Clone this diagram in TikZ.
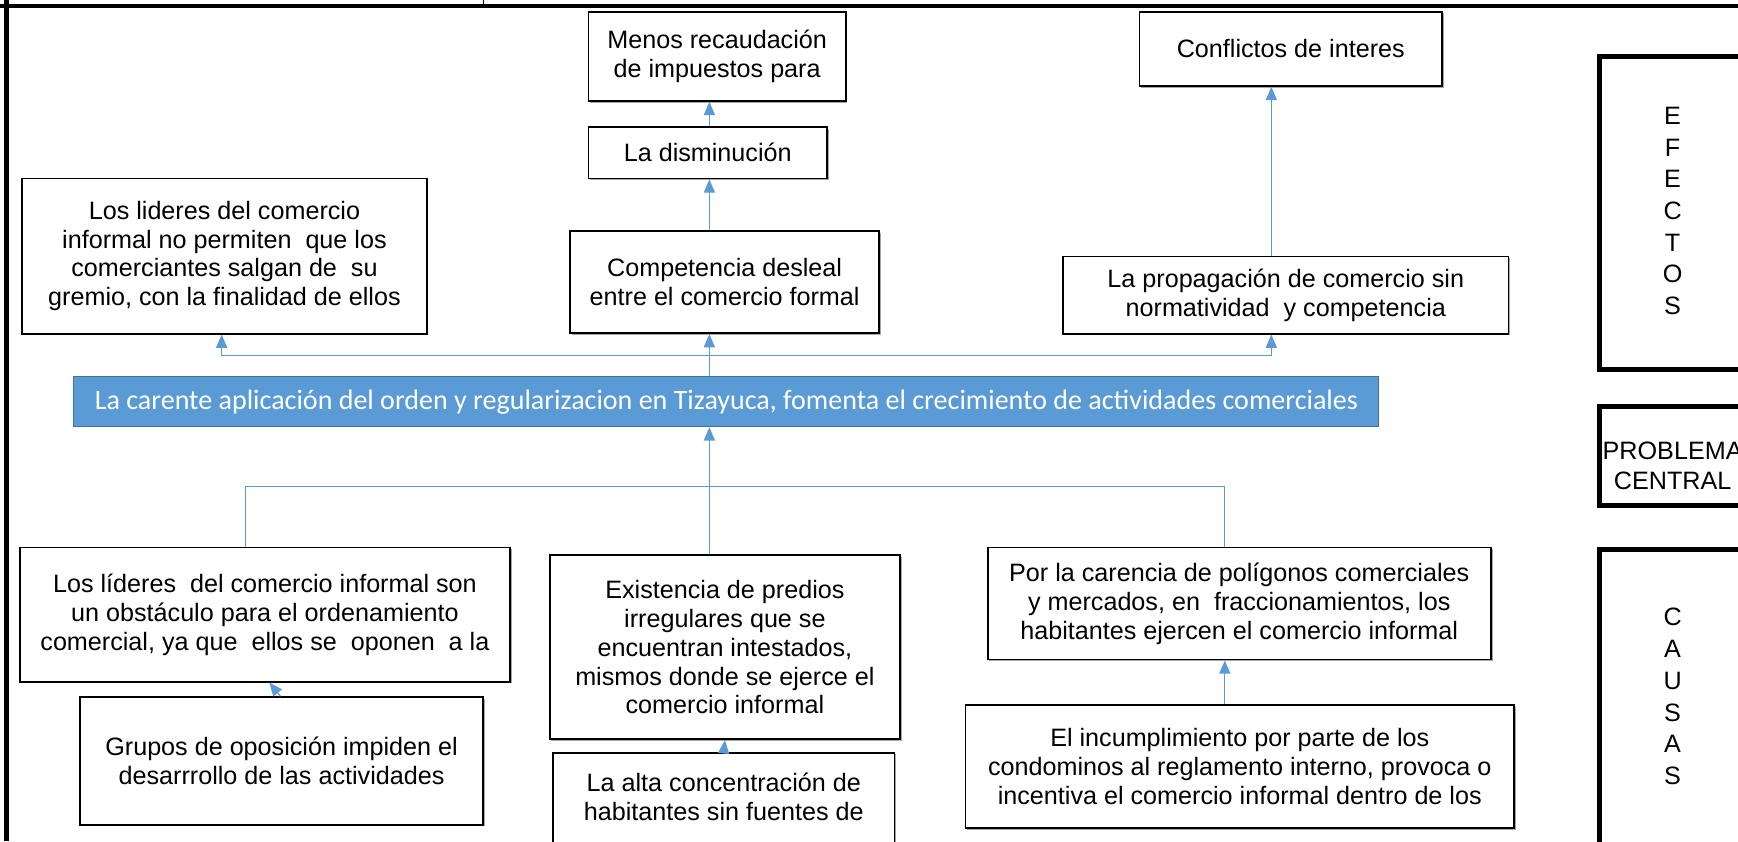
\documentclass[tikz,border=0pt]{standalone}
\usepackage{fontspec}
\setmainfont{Liberation Sans}
\newfontfamily\calibfont{Carlito}
\usetikzlibrary{arrows.meta,calc,shadows}
\definecolor{cblue}{HTML}{5B9BD5}
\definecolor{cbluedark}{HTML}{41719C}
\tikzset{
  box/.style={draw=black, line width=1.6pt, fill=white, inner sep=0pt, align=center,
    font=\fontsize{22.7}{26}\selectfont,
    drop shadow={shadow xshift=1.5pt, shadow yshift=-1.5pt, fill=black!35, opacity=1}},
  txt/.style={inner sep=0pt, align=center, font=\fontsize{22.7}{26}\selectfont},
  arr/.style={draw=cblue, line width=1.1pt, -{Triangle[width=10pt,length=12pt]}},
  conn/.style={draw=cblue, line width=1.1pt},
  panel/.style={draw=black, line width=4.5pt, minimum width=132pt, inner sep=0pt},
  sidetxt/.style={inner sep=0pt, align=center, font=\fontsize{22.7}{28.5}\selectfont},
  frame/.style={draw=black, line width=4pt}
}
\begin{document}
\begin{tikzpicture}[x=1pt,y=-1pt]
\useasboundingbox (0,0) rectangle (1568,759);
\clip (0,0) rectangle (1568,759);

% outer frame
\draw[line width=3.6pt] (0,5.4) -- (1568,5.4);
\draw[frame] (6,0) -- (6,759);
\draw[line width=1.2pt] (436,0) -- (436,5.4);

% helper x positions
\coordinate (cx) at (640,0);
\coordinate (lx) at (200,0);
\coordinate (rx) at (1147,0);
\coordinate (blx) at (221.5,0);
\coordinate (brx) at (1105,0);
\coordinate (gsx) at (253,0);
\coordinate (gtx) at (243,0);
\coordinate (hu) at (640,321);
\coordinate (hb) at (640,439);

% effects
\node[box, minimum width=232pt, minimum height=80.5pt] (menos) at (647,50.75)
  {Menos recaudación\\de impuestos para};
\node[box, minimum width=215pt, minimum height=46.5pt] (dism) at (638.5,137.75)
  {La disminución};
\node[box, minimum width=278.5pt, minimum height=92pt] (comp) at (653.75,254.5)
  {Competencia desleal\\entre el comercio formal};
\node[box, minimum width=365pt, minimum height=140pt] (lid1) at (202.5,231)
  {Los lideres del comercio\\informal no permiten\ \ que los\\comerciantes salgan de\ \ su\\gremio, con la finalidad de ellos};
\node[box, minimum width=273pt, minimum height=67pt] (conf) at (1164.5,44)
  {Conflictos de interes};
\node[box, minimum width=402pt, minimum height=69.5pt] (prop) at (1160,266.25)
  {La propagación de comercio sin\\normatividad\ \ y competencia};

% central problem
\node[draw=cbluedark, line width=1pt, fill=cblue, minimum width=1177.4pt, minimum height=45pt,
  inner sep=0pt, text=white, font=\calibfont\fontsize{25.3}{30}\selectfont] (bar) at (655.3,362.5)
  {La carente aplicación del orden y regularizacion en Tizayuca, fomenta el crecimiento de actividades comerciales};

% causes
\node[box, minimum width=442pt, minimum height=121pt] (lid2) at (239,554.5)
  {Los líderes\ \ del comercio informal son\\un obstáculo para el ordenamiento\\comercial, ya que\ \ ellos se\ \ oponen\ \ a la};
\node[box, minimum width=364pt, minimum height=115pt] (grupos) at (254,686.5)
  {Grupos de oposición impiden el\\desarrrollo de las actividades};
\node[box, minimum width=316pt, minimum height=166pt] (exist) at (654,584)
  {Existencia de predios\\irregulares que se\\encuentran intestados,\\mismos donde se ejerce el\\comercio informal};
\node[box, minimum width=308pt, minimum height=111pt] (alta) at (653,734.5) {};
\node[txt] (altatxt) at (653,719) {La alta concentración de\\habitantes sin fuentes de};
\node[box, minimum width=454pt, minimum height=101pt] (carencia) at (1118,544.5)
  {Por la carencia de polígonos comerciales\\y mercados, en\ \ fraccionamientos, los\\habitantes ejercen el comercio informal};
\node[box, minimum width=495pt, minimum height=111pt] (incump) at (1118.5,691.5)
  {El incumplimiento por parte de los\\condominos al reglamento interno, provoca o\\incentiva el comercio informal dentro de los};

% right panels
\node[panel, minimum height=282pt] (efectos) at (1509,192) {};
\node[sidetxt] (efectostxt) at (1509,190.4) {E\\F\\E\\C\\T\\O\\S};
\node[panel, minimum height=89pt] (problema) at (1509,411.5) {};
\node[sidetxt, font=\fontsize{22.7}{27}\selectfont] (problematxt) at (1509,420.4) {PROBLEMA\\CENTRAL};
\node[panel, minimum height=334pt] (causas) at (1509,663) {};
\node[sidetxt, font=\fontsize{22.7}{28.6}\selectfont] (causastxt) at (1509,628.4) {C\\A\\U\\S\\A\\S};

% connectors: effects
\draw[arr] (dism.north -| cx) -- (menos.south -| cx);
\draw[arr] (comp.north -| cx) -- (dism.south -| cx);
\draw[arr] (prop.north -| rx) -- (conf.south -| rx);
\draw[conn] (bar.north -| cx) -- (hu);
\draw[arr] (hu) -| (lid1.south -| lx);
\draw[arr] (hu) -- (comp.south -| cx);
\draw[arr] (hu) -| (prop.south -| rx);

% connectors: causes
\draw[arr] (exist.north -| cx) -- (bar.south -| cx);
\draw[conn] (hb) -| (lid2.north -| blx);
\draw[conn] (hb) -| (carencia.north -| brx);
\draw[arr] (grupos.north -| gsx) -- (lid2.south -| gtx);
\draw[arr] (alta.north) -- (exist.south);
\draw[arr] (incump.north -| brx) -- (carencia.south -| brx);
\end{tikzpicture}
\end{document}
